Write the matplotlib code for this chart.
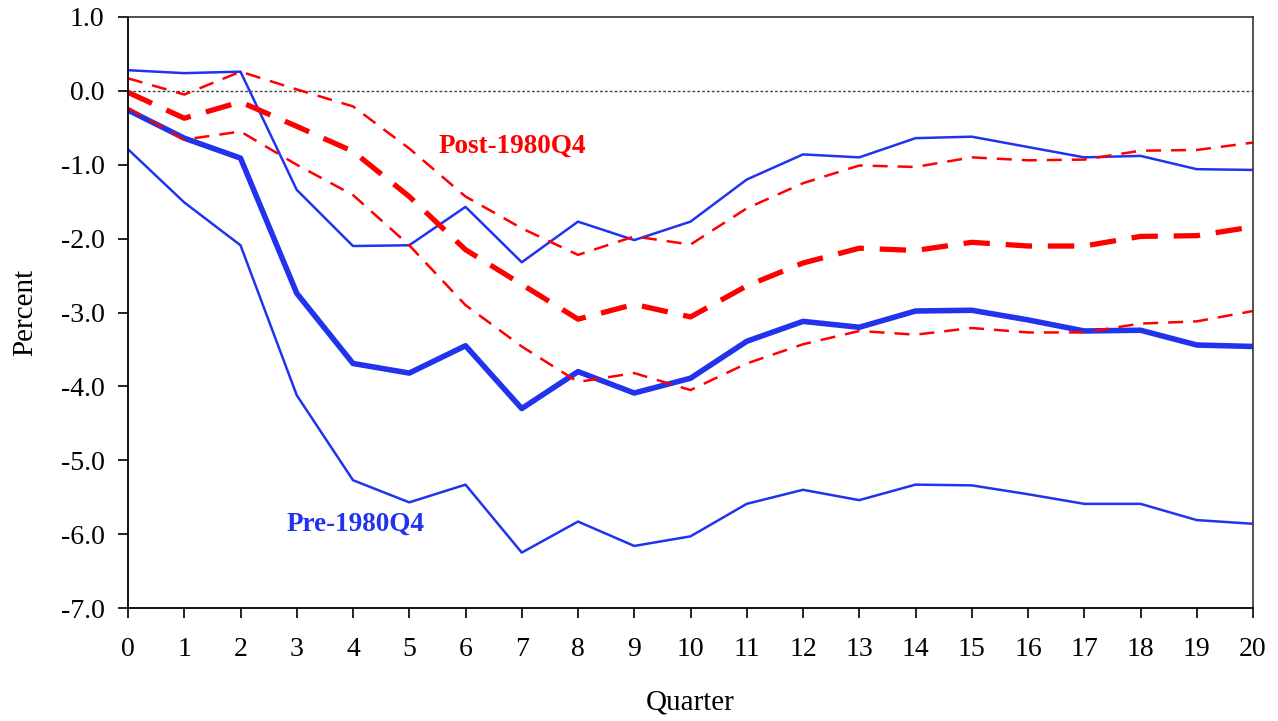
import matplotlib
matplotlib.use('Agg')
import matplotlib.pyplot as plt

plt.rcParams['font.family'] = ['Liberation Serif', 'DejaVu Serif']

quarters = list(range(21))

pre_upper = [0.28, 0.24, 0.26, -1.34, -2.10, -2.09, -1.57, -2.32, -1.77, -2.02, -1.77,
             -1.20, -0.86, -0.90, -0.64, -0.62, -0.76, -0.90, -0.88, -1.06, -1.07]
pre_point = [-0.26, -0.64, -0.91, -2.74, -3.69, -3.82, -3.45, -4.30, -3.80, -4.09, -3.89,
             -3.39, -3.12, -3.20, -2.98, -2.97, -3.10, -3.25, -3.24, -3.44, -3.46]
pre_lower = [-0.79, -1.51, -2.09, -4.12, -5.27, -5.57, -5.33, -6.25, -5.83, -6.16, -6.03,
             -5.59, -5.40, -5.54, -5.33, -5.34, -5.46, -5.59, -5.59, -5.81, -5.86]

post_upper = [0.17, -0.05, 0.26, 0.02, -0.21, -0.78, -1.43, -1.86, -2.22, -1.97, -2.08,
              -1.59, -1.25, -1.01, -1.03, -0.90, -0.94, -0.93, -0.81, -0.80, -0.70]
post_point = [-0.02, -0.37, -0.15, -0.48, -0.82, -1.43, -2.15, -2.62, -3.09, -2.89, -3.06,
              -2.64, -2.33, -2.13, -2.16, -2.05, -2.10, -2.10, -1.97, -1.96, -1.84]
post_lower = [-0.23, -0.66, -0.55, -1.00, -1.41, -2.09, -2.90, -3.46, -3.94, -3.82, -4.05,
              -3.69, -3.43, -3.25, -3.30, -3.21, -3.27, -3.27, -3.15, -3.12, -2.98]

yticks = [1, 0, -1, -2, -3, -4, -5, -6, -7]

blue = '#2233ee'
red = '#ff0000'

fig = plt.figure(figsize=(12.78, 7.21), dpi=100)
ax = fig.add_axes([128 / 1278, 1 - 608 / 721, (1253 - 128) / 1278, (608 - 17) / 721])

ax.axhline(0, color='#444444', lw=1.0, ls=(0, (2, 1.5)), zorder=1)

ax.plot(quarters, pre_upper, color=blue, lw=1.8)
ax.plot(quarters, pre_lower, color=blue, lw=1.8)
ax.plot(quarters, pre_point, color=blue, lw=4.0)

ax.plot(quarters, post_upper, color=red, lw=1.8, dashes=(6, 4))
ax.plot(quarters, post_lower, color=red, lw=1.8, dashes=(6, 4))
ax.plot(quarters, post_point, color=red, lw=3.8, dashes=(5, 3))

ax.text(6.83, -0.75, 'Post-1980Q4', color=red, fontsize=19.5, fontweight='bold',
        ha='center', va='center')
ax.text(4.05, -5.86, 'Pre-1980Q4', color=blue, fontsize=19.5, fontweight='bold',
        ha='center', va='center')

ax.set_xlim(0, 20)
ax.set_ylim(-7, 1)
ax.set_xticks(quarters)
ax.set_yticks(yticks)
ax.set_yticklabels(['%.1f' % v for v in yticks])
ax.tick_params(axis='both', labelsize=20, width=1.2, length=7, color='black')
ax.tick_params(axis='y', direction='out', pad=10)
ax.tick_params(axis='x', direction='out', pad=14)

for side in ['left', 'bottom']:
    ax.spines[side].set_linewidth(1.3)
    ax.spines[side].set_color('black')
for side in ['top', 'right']:
    ax.spines[side].set_linewidth(1.2)
    ax.spines[side].set_color('#333333')

ax.set_xlabel('Quarter', fontsize=21, labelpad=20)
ax.set_ylabel('Percent', fontsize=21, labelpad=16)

fig.savefig('out.png', dpi=100)
